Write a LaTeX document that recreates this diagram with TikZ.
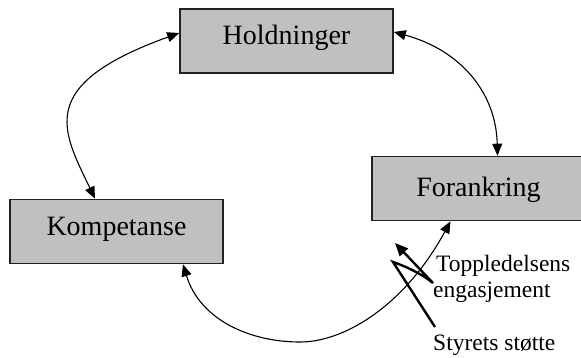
\documentclass[tikz,border=0pt]{standalone}
\usepackage{fontspec}
\setmainfont{Liberation Serif}[Ligatures=TeX]
\newfontfamily\tnr{Liberation Serif}
\usetikzlibrary{arrows.meta}
\definecolor{boxgray}{HTML}{C0C0C0}
\definecolor{edge}{HTML}{222222}
\tikzset{
  box/.style={draw=edge, line width=1.6pt, fill=boxgray, inner sep=0pt,
    font=\tnr\fontsize{28}{30}\selectfont, text height=36pt, text depth=28pt,
    minimum height=64pt},
  link/.style={line width=1.1pt, {Triangle[length=12pt,width=10pt]}-{Triangle[length=12pt,width=10pt]}},
  side/.style={font=\tnr\fontsize{23.5}{26}\selectfont, anchor=base west, inner sep=0pt},
  zig/.style={line width=2.4pt, -{Triangle[length=13pt,width=11pt]}}
}
\begin{document}
\begin{tikzpicture}[x=1pt,y=-1pt]
\useasboundingbox[fill=white] (0,0) rectangle (581,358);
\node[box, minimum width=213pt] (hold) at (286.5,41) {Holdninger};
\node[box, minimum width=213pt] (komp) at (116.5,231.5) {Kompetanse};
\node[box, minimum width=213pt, text height=40pt, text depth=24pt] (foran) at (478.5,188.5) {Forankring};
% connectors
\draw[link] ([xshift=-21.5pt]komp.north) .. controls (62,130) and (35,85) .. ([yshift=8pt]hold.west);
\draw[link] ([yshift=9pt]hold.east) .. controls (460,50) and (496,92) .. ([xshift=19pt]foran.north);
\draw[link] ([xshift=66.5pt]komp.south) .. controls (200,320) and (250,342) .. (300,342)
   .. controls (345,342) and (405,305) .. ([xshift=-28pt]foran.south);
% zigzag arrow
\coordinate (z0) at (435,327);
\coordinate (z1) at (393,262);
\coordinate (z2) at (433,283);
\coordinate (z3) at (395,243);
\draw[zig, line join=miter] (z0) -- (z1) .. controls (405,266) and (422,274) .. (z2) -- (z3);
% labels
\node[side] (topp) at (436,272) {Toppledelsens};
\node[side] (eng) at (433,297) {engasjement};
\node[side] (styr) at (433,350) {Styrets støtte};
\end{tikzpicture}
\end{document}
